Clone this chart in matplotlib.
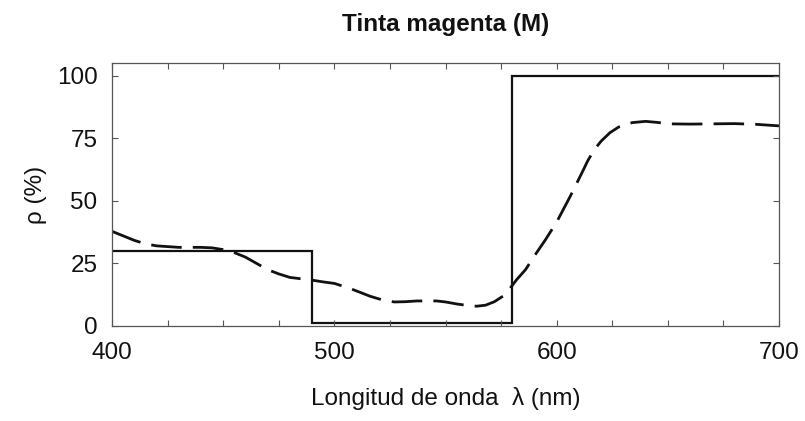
import matplotlib
matplotlib.use("Agg")
import matplotlib.pyplot as plt
from matplotlib.ticker import MultipleLocator

plt.rcParams['font.family'] = ['Liberation Sans', 'DejaVu Sans']

# Ideal (block) reflectance of magenta ink
step_edges = [400, 490, 580, 700]
step_levels = [30, 1, 100]

# Real measured reflectance (dashed)
wl = [400, 405, 410, 415, 420, 430, 440, 445, 450, 455, 460, 465, 470, 475,
      480, 490, 495, 500, 507, 512, 516, 522, 527, 532, 537, 546, 550, 555,
      560, 564, 568, 572, 576, 579, 582, 586, 590, 595, 600, 606, 611, 614,
      617, 620, 624, 628, 634, 640, 645, 651, 660, 670, 680, 690, 700]
refl = [37.8, 36.0, 34.2, 32.8, 32.0, 31.4, 31.4, 31.2, 30.5, 29.3, 27.5, 25.0,
        22.5, 20.8, 19.4, 18.3, 17.6, 17.0, 15.0, 13.3, 11.9, 10.3, 9.6, 9.7,
        10.0, 10.0, 9.6, 8.8, 8.2, 7.9, 8.3, 9.7, 12.0, 15.0, 18.5, 22.5, 28.0,
        34.5, 41.5, 51.6, 60.5, 66.0, 70.5, 73.8, 77.2, 79.5, 81.2, 81.7, 81.3,
        80.7, 80.6, 80.7, 80.8, 80.5, 79.9]

x_ticks = [400, 500, 600, 700]
y_ticks = [0, 25, 50, 75, 100]

title = "Tinta magenta (M)"
xlabel = "Longitud de onda  λ (nm)"
ylabel = "ρ (%)"

W, H = 805, 421
fig = plt.figure(figsize=(W / 100, H / 100), dpi=100)
left, right, top, bottom = 112, 779, 63, 326
ax = fig.add_axes([left / W, 1 - bottom / H, (right - left) / W, (bottom - top) / H])

ax.stairs(step_levels, step_edges, baseline=None, color='#111111', lw=1.6)
line, = ax.plot(wl, refl, color='#111111', lw=2.0)
line.set_dashes((11, 4))
line.set_dash_capstyle('butt')

ax.set_xlim(400, 700)
ax.set_ylim(0, 105)
ax.set_xticks(x_ticks)
ax.set_yticks(y_ticks)
ax.xaxis.set_minor_locator(MultipleLocator(25))

for s in ax.spines.values():
    s.set_linewidth(0.9)
    s.set_color('#555555')

fs = 17.5
ax.tick_params(which='both', direction='in', length=4, width=0.8, color='#555555',
               top=True, right=True)
ax.tick_params(axis='both', which='major', labelsize=fs, labelcolor='#111111')
ax.tick_params(axis='x', which='major', pad=11.5)
ax.tick_params(axis='y', which='major', pad=10.5)

ax.set_title(title, fontsize=fs, fontweight='bold', pad=23, color='#111111')
ax.set_xlabel(xlabel, fontsize=fs, color='#111111')
ax.xaxis.label.set_va('baseline')
ax.xaxis.set_label_coords(0.5, (bottom - 405) / (bottom - top))
ax.set_ylabel(ylabel, fontsize=fs, color='#111111')
ax.yaxis.label.set_va('center')
ax.yaxis.set_label_coords((36 - left) / (right - left), 0.5)

fig.savefig("out.png", dpi=100)
